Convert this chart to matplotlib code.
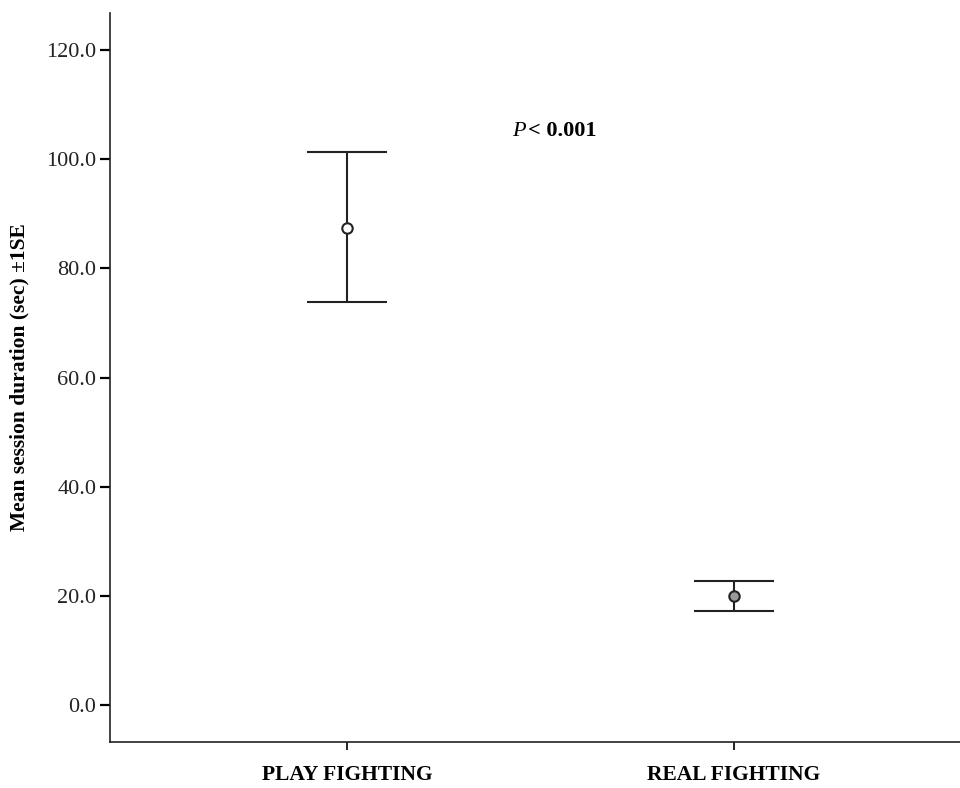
import matplotlib.pyplot as plt

groups = ['PLAY FIGHTING', 'REAL FIGHTING']
means = [87.5, 20.0]
upper = [101.3, 22.7]
lower = [73.8, 17.2]
face = ['white', '#999999']

plt.rcParams['font.family'] = ['Liberation Serif', 'DejaVu Serif']

fig = plt.figure(figsize=(9.6, 7.88), dpi=100)
ax = fig.add_axes([0.1146, 0.0588, 0.8854, 0.9247])

for i in range(len(groups)):
    err = [[means[i] - lower[i]], [upper[i] - means[i]]]
    ax.errorbar(i, means[i], yerr=err, fmt='o', color='#222222', ecolor='#222222',
                elinewidth=1.5, capsize=29, capthick=1.6, markersize=7.5,
                markerfacecolor=face[i], markeredgecolor='#222222', markeredgewidth=1.5)

ax.set_xlim(-0.612, 1.584)
ax.set_ylim(-6.7, 126.8)
ax.set_yticks([0, 20, 40, 60, 80, 100, 120])
ax.set_yticklabels(['%.1f' % v for v in [0, 20, 40, 60, 80, 100, 120]], fontsize=16, color='#222222')
ax.set_xticks(range(len(groups)))
ax.set_xticklabels(groups, fontsize=15.5, fontweight='bold')
ax.tick_params(axis='y', length=7, width=1.6, pad=3)
ax.tick_params(axis='x', length=6, width=1.2, pad=11)

for s in ['top', 'right']:
    ax.spines[s].set_visible(False)
for s in ['left', 'bottom']:
    ax.spines[s].set_linewidth(1.2)
    ax.spines[s].set_color('#222222')

ax.set_ylabel('Mean session duration (sec) \u00b11SE', fontsize=15.5, fontweight='bold', labelpad=12)

ax.text(0.489, 0.838, 'P', transform=ax.transAxes, fontsize=16, fontstyle='italic',
        ha='right', va='center')
ax.text(0.492, 0.838, '< 0.001', transform=ax.transAxes, fontsize=16,
        fontweight='bold', ha='left', va='center')

fig.savefig('out.png', dpi=100)
